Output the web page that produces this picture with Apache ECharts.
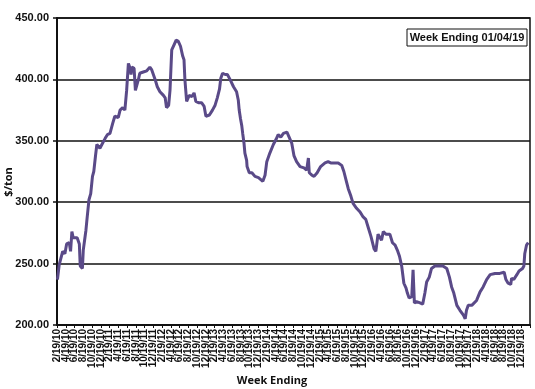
<!DOCTYPE html>
<html>
<head>
<meta charset="utf-8">
<script src="https://cdn.jsdelivr.net/npm/echarts@6/dist/echarts.min.js"></script>
<style>html,body{margin:0;padding:0;background:#fff;}#c{width:535px;height:389px;}</style>
</head>
<body>
<div id="c"></div>
<script>
// x values: months since 2/19/10; y values: $/ton
const months = [0.1,0.5,1.3,1.8,2.2,2.8,3.1,3.4,3.7,4.1,
4.6,5.1,5.3,5.8,6.0,6.3,6.6,6.9,7.3,7.7,
8.1,8.4,8.8,9.1,9.8,10.4,11.0,11.5,12.1,12.7,
13.2,14.0,14.4,15.0,15.5,15.9,16.3,16.7,16.9,17.1,
17.6,17.9,18.2,18.6,18.9,19.7,20.5,21.2,21.6,22.4,
22.9,23.5,24.3,24.7,25.0,25.5,25.8,26.2,26.7,27.2,
27.7,28.2,28.7,29.0,29.2,29.6,30.2,30.8,31.3,31.7,
32.3,33.0,33.6,34.0,34.8,35.5,36.1,36.6,37.1,37.4,
37.8,38.4,38.9,39.5,40.3,41.0,41.4,41.6,41.9,42.2,
42.4,42.7,42.9,43.3,43.4,43.9,44.5,45.2,46.0,47.0,
47.5,47.9,48.6,49.4,50.0,50.5,51.1,51.7,52.5,53.0,
53.6,54.1,54.7,55.5,56.4,57.0,57.4,57.6,58.2,58.7,
59.4,60.2,61.2,61.9,62.5,62.9,63.5,64.2,65.0,65.5,
66.0,66.5,67.1,67.6,68.4,69.2,69.9,70.5,71.1,71.7,
72.4,72.8,73.3,73.7,74.1,74.5,75.1,76.0,76.6,77.2,
77.7,78.2,78.7,79.2,79.7,80.0,80.4,81.0,81.3,81.6,
82.1,82.9,83.5,84.0,84.4,85.0,85.5,86.3,87.3,88.1,
88.4,89.0,89.6,90.1,90.6,91.3,92.0,92.8,93.2,93.5,
93.9,94.7,95.0,95.8,96.6,97.3,98.1,98.9,100.0,101.1,
102.1,102.5,103.0,103.6,103.8,104.3,105.0,105.5,106.3,106.6,
106.8,107.2,107.6];
const prices = [237,249,260,258,266,267,260,276,271,272,
271,266,248,246,261,269,277,288,302,307,
321,325,338,347,344,348,352,355,356,364,
370,369,375,377,375,391,413,409,404,410,
409,391,390,400,405,406,407,410,408,400,
394,390,387,385,377,379,391,424,428,432,
431,427,419,416,400,382,387,386,389,382,
381,381,378,370,371,375,379,385,392,401,
405,404,404,400,394,390,383,375,368,362,
356,348,340,334,329,324,324,321,320,317,
322,333,340,347,351,355,353,356,357,353,
348,338,333,329,328,326,336,324,322,321,
324,329,332,333,332,333,332,332,330,325,
318,311,305,299,295,292,288,286,279,272,
262,260,274,275,269,276,274,274,267,265,
261,256,248,234,230,226,222,223,245,218,
219,218,217,226,235,239,246,248,248,248,
249,246,239,231,226,216,212,208,205,212,
216,216,215,220,227,231,237,241,242,242,
243,237,234,233,238,237,241,244,246,248,
258,265,267];
const yTicks = [200, 250, 300, 350, 400, 450];
const tickMonths = 108;          // axis span in months, one tick per 2 months
const startMonth = 2, startYear = 2010; // first tick label 2/19/10
const boxLabel = 'Week Ending 01/04/19';
const yName = '$/ton';
const xName = 'Week Ending';

const tickLabels = [];
for (let v = 0; v <= tickMonths; v += 2) {
  const total = (startMonth - 1) + v;
  const mon = (total % 12) + 1;
  const yr = (startYear + Math.floor(total / 12)) % 100;
  tickLabels.push(mon + '/19/' + String(yr).padStart(2, '0'));
}

const seriesData = months.map((m, i) => [m, prices[i]]);

const chart = echarts.init(document.getElementById('c'), null, {renderer: 'canvas'});
chart.setOption({
  animation: false,
  backgroundColor: '#fff',
  grid: {left: 57, right: 5, top: 18, bottom: 64, show: true, borderColor: '#111', borderWidth: 1.5, containLabel: false},
  xAxis: [{
    type: 'category', data: tickLabels, boundaryGap: false,
    axisLine: {show: true, onZero: false, lineStyle: {color: '#111', width: 2}},
    axisTick: {show: true, interval: 0, length: 3, lineStyle: {color: '#111', width: 1}},
    splitLine: {show: false},
    axisLabel: {
      rotate: 90, margin: 4, interval: 0,
      fontFamily: 'Liberation Sans', fontWeight: 'bold', fontSize: 10, color: '#111',
      formatter: (v, i) => (i === tickLabels.length - 1 ? '' : v)
    }
  }, {
    type: 'value', min: 0, max: tickMonths, show: false
  }],
  yAxis: {
    type: 'value', min: yTicks[0], max: yTicks[yTicks.length - 1], interval: 50,
    axisLine: {show: true, lineStyle: {color: '#111', width: 2}},
    axisTick: {show: true, length: 4, lineStyle: {color: '#111', width: 1.5}},
    splitLine: {show: true, lineStyle: {color: '#111', width: 1.5}},
    axisLabel: {
      margin: 8, fontFamily: 'Liberation Sans', fontWeight: 'bold', fontSize: 11, color: '#111',
      formatter: v => v.toFixed(2)
    }
  },
  series: [{
    type: 'line', xAxisIndex: 1, data: seriesData, showSymbol: false, smooth: false,
    lineStyle: {color: '#5a4a88', width: 3}, z: 3
  }],
  graphic: [
    {type: 'rect', shape: {x: 407, y: 29, width: 120, height: 17}, style: {fill: '#fff', stroke: '#111', lineWidth: 1}, z: 10},
    {type: 'text', x: 467, y: 37.5, style: {text: boxLabel, font: 'bold 11px "Liberation Sans"', fill: '#111', textAlign: 'center', textVerticalAlign: 'middle'}, z: 11},
    {type: 'text', x: 9, y: 182, rotation: Math.PI / 2, style: {text: yName, font: 'bold 11px "Open Sans"', fill: '#111', textAlign: 'center', textVerticalAlign: 'middle'}},
    {type: 'text', x: 272, y: 381, style: {text: xName, font: 'bold 11px "Open Sans"', fill: '#111', textAlign: 'center', textVerticalAlign: 'middle'}}
  ]
});
</script>
</body>
</html>
